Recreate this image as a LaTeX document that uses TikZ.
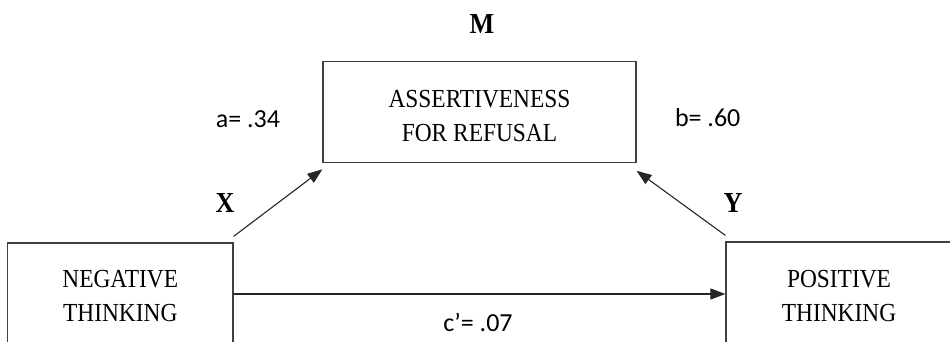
\documentclass[tikz,border=0pt]{standalone}
\usepackage{fontspec}
\setmainfont{Liberation Serif}[FakeStretch=0.9]
\newfontfamily\labfont{Carlito}
\usetikzlibrary{arrows.meta}
\begin{document}
\begin{tikzpicture}[x=1pt,y=-1pt,
  boxstyle/.style={draw=black!75, line width=1.2pt, inner sep=0pt},
  boxtext/.style={inner sep=0pt, align=center, font=\fontsize{26}{34}\selectfont},
  conn/.style={draw=black!85, line width=1.1pt, -{Triangle[length=15pt,width=11pt]}},
  lab/.style={anchor=base, inner sep=0pt, font=\labfont\fontsize{26}{30}\selectfont},
  varlab/.style={anchor=base, inner sep=0pt, font=\bfseries\fontsize{29}{32}\selectfont}]
\useasboundingbox (0,0) rectangle (950,342);
\clip (0,0) rectangle (950,342);
\node[boxstyle, minimum width=313pt, minimum height=101pt] (m) at (479.5,111.7) {};
\node[boxstyle, minimum width=225.5pt, minimum height=102pt] (nt) at (120.25,294) {};
\node[boxstyle, minimum width=226pt, minimum height=102pt] (pt) at (839,293) {};
\node[boxtext] (mtext) at (479.5,116.5) {ASSERTIVENESS\\FOR REFUSAL};
\node[boxtext] (nttext) at (120.25,296.5) {NEGATIVE\\THINKING};
\node[boxtext] (pttext) at (839,296) {POSITIVE\\THINKING};
\draw[conn] ([yshift=6pt]nt.north east) -- ([yshift=-6.5pt]m.south west);
\draw[conn] ([yshift=6pt]pt.north west) -- ([yshift=-8pt]m.south east);
\draw[conn] (nt.east) -- (nt.east -| pt.west);
\node[varlab] (lm) at (482,33.3) {M};
\node[varlab] (lx) at (225,212) {X};
\node[varlab] (ly) at (733,212.5) {Y};
\node[lab] (la) at (248,128) {a= .34};
\node[lab] (lb) at (707.7,127) {b= .60};
\node[lab] (lc) at (478,331.7) {c’= .07};
\end{tikzpicture}
\end{document}
